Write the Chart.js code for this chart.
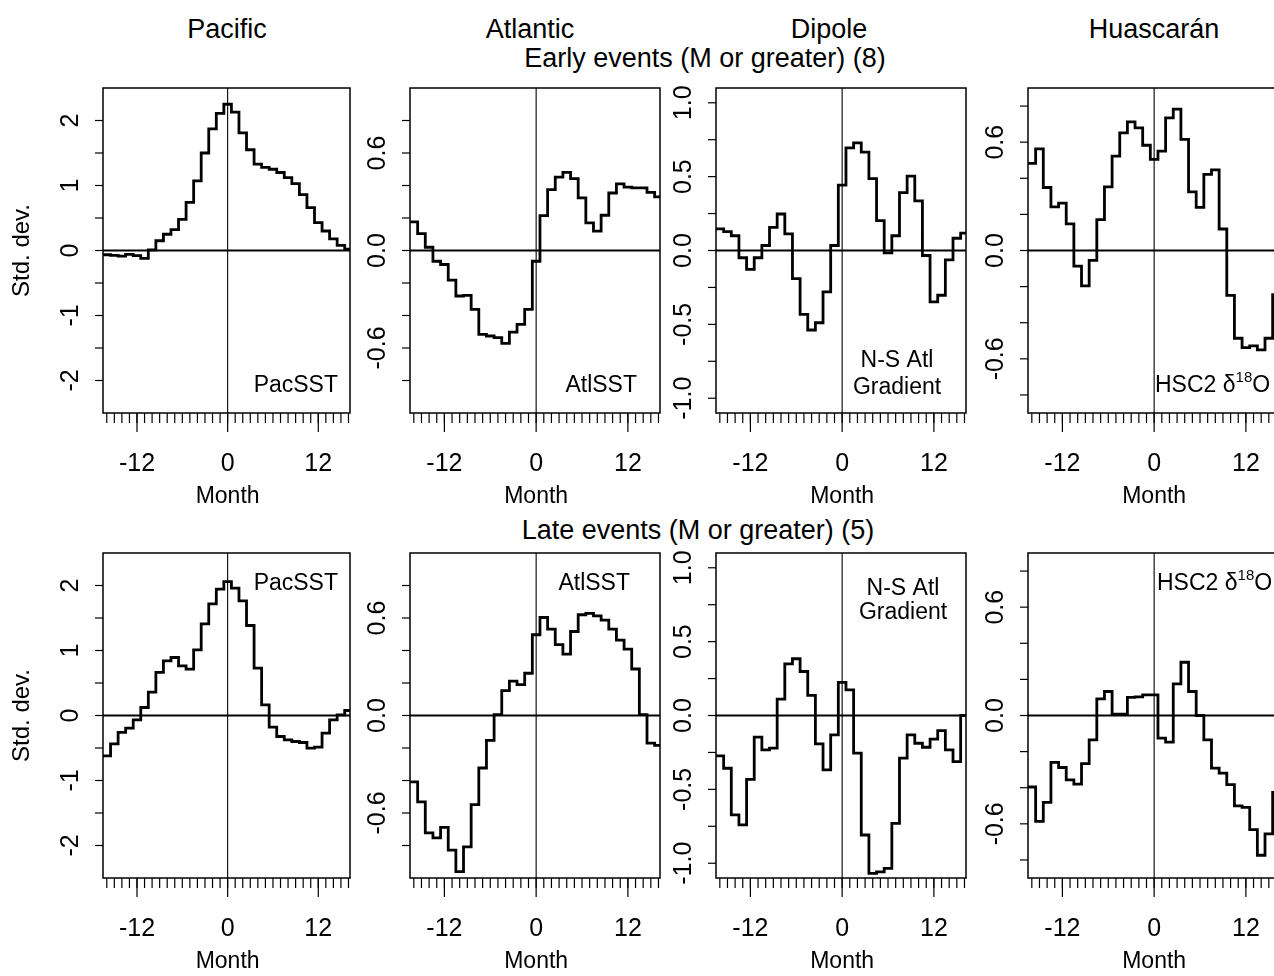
<!DOCTYPE html>
<html lang="en">
<head>
<meta charset="utf-8">
<title>Early and late events</title>
<script src="https://cdn.jsdelivr.net/npm/chart.js"></script>
<style>
  html, body { margin: 0; padding: 0; background: #fff; overflow: hidden; }
  body { width: 1274px; height: 976px; position: relative; font-family: 'Liberation Sans', Arial, sans-serif; color: #000; }
  .head { position: absolute; font-size: 27px; line-height: 27px; white-space: nowrap; transform: translateX(-50%); }
  canvas { position: absolute; }
</style>
</head>
<body>
<div class="head" style="left:227px;top:16px">Pacific</div>
<div class="head" style="left:530px;top:16px">Atlantic</div>
<div class="head" style="left:829px;top:16px">Dipole</div>
<div class="head" style="left:1154px;top:16px">Huascarán</div>
<div class="head" style="left:705px;top:45px">Early events (M or greater) (8)</div>
<div class="head" style="left:698px;top:517px">Late events (M or greater) (5)</div>

<script>
    // months relative to the event, -16 .. 16
    const months = [-16, -15, -14, -13, -12, -11, -10, -9, -8, -7, -6, -5, -4, -3, -2, -1, 0,
                    1, 2, 3, 4, 5, 6, 7, 8, 9, 10, 11, 12, 13, 14, 15, 16];
    const xTickLabels = [-12, 0, 12];

    // early events (M or greater) (8)
    const pacificEarly = [-0.065, -0.075, -0.085, -0.06, -0.08, -0.12, 0.01, 0.15, 0.25, 0.32, 0.48, 0.74, 1.07, 1.50, 1.87, 2.11,
                          2.25, 2.13, 1.81, 1.55, 1.33, 1.28, 1.25, 1.20, 1.12, 1.03, 0.86, 0.66, 0.43, 0.30, 0.18, 0.08, 0.02];
    const atlanticEarly = [0.176, 0.104, 0.02, -0.066, -0.086, -0.182, -0.28, -0.276, -0.362, -0.516, -0.526, -0.536, -0.571, -0.502, -0.455, -0.362,
                           -0.066, 0.215, 0.375, 0.452, 0.481, 0.442, 0.324, 0.17, 0.119, 0.217, 0.354, 0.41, 0.39, 0.385, 0.385, 0.358, 0.33];
    const dipoleEarly = [0.146, 0.128, 0.10, -0.049, -0.128, -0.049, 0.034, 0.157, 0.247, 0.112, -0.19, -0.433, -0.538, -0.489, -0.28, 0.034,
                         0.442, 0.695, 0.729, 0.666, 0.487, 0.202, -0.016, 0.10, 0.392, 0.504, 0.336, -0.034, -0.348, -0.303, -0.063, 0.083, 0.117];
    const huascaranEarly = [0.483, 0.563, 0.349, 0.242, 0.262, 0.147, -0.086, -0.196, -0.055, 0.171, 0.352, 0.523, 0.651, 0.712, 0.679, 0.583,
                            0.505, 0.55, 0.734, 0.783, 0.615, 0.325, 0.239, 0.422, 0.446, 0.119, -0.248, -0.486, -0.538, -0.528, -0.55, -0.486, -0.244];

    // late events (M or greater) (5)
    const pacificLate = [-0.62, -0.436, -0.26, -0.195, -0.067, 0.123, 0.359, 0.662, 0.841, 0.892, 0.764, 0.713, 1.01, 1.41, 1.718, 1.944,
                         2.06, 1.96, 1.764, 1.385, 0.728, 0.164, -0.18, -0.323, -0.374, -0.4, -0.415, -0.503, -0.487, -0.272, -0.067, 0.01, 0.077];
    const atlanticLate = [-0.409, -0.532, -0.722, -0.753, -0.689, -0.828, -0.961, -0.808, -0.548, -0.323, -0.153, 0.006, 0.153, 0.211, 0.19, 0.26,
                          0.497, 0.603, 0.532, 0.436, 0.378, 0.517, 0.62, 0.628, 0.613, 0.587, 0.532, 0.464, 0.409, 0.286, 0.006, -0.17, -0.184];
    const dipoleLate = [-0.273, -0.357, -0.673, -0.741, -0.432, -0.147, -0.233, -0.221, 0.111, 0.35, 0.384, 0.298, 0.136, -0.192, -0.368, -0.131,
                        0.224, 0.174, -0.255, -0.809, -1.069, -1.058, -1.035, -0.73, -0.289, -0.131, -0.188, -0.215, -0.16, -0.102, -0.233, -0.312, 0.0];
    const huascaranLate = [-0.396, -0.586, -0.481, -0.26, -0.288, -0.356, -0.38, -0.267, -0.135, 0.092, 0.133, 0.007, 0.007, 0.1, 0.103, 0.114,
                           0.114, -0.125, -0.147, 0.175, 0.295, 0.133, 0.0, -0.135, -0.291, -0.319, -0.383, -0.5, -0.509, -0.632, -0.774, -0.656, -0.426];

    // y axis ticks and labels per column
    const pacificYTicks = [-2, -1.5, -1, -0.5, 0, 0.5, 1, 1.5, 2];
    const pacificYLabels = [-2, -1, 0, 1, 2];
    const atlanticYTicks = [-0.8, -0.6, -0.4, -0.2, 0, 0.2, 0.4, 0.6, 0.8];
    const atlanticYLabels = [-0.6, 0, 0.6];
    const dipoleYTicks = [-1, -0.75, -0.5, -0.25, 0, 0.25, 0.5, 0.75, 1];
    const dipoleYLabels = [-1, -0.5, 0, 0.5, 1];
    const huascaranYTicks = [-0.8, -0.6, -0.4, -0.2, 0, 0.2, 0.4, 0.6, 0.8];
    const huascaranYLabels = [-0.6, 0, 0.6];

    const FONT = "'Liberation Sans', Arial, sans-serif";

    // plot boxes on the page
    const cols = [
        { left: 103, width: 247 },
        { left: 410, width: 250 },
        { left: 716, width: 250 },
        { left: 1028, width: 250 }
    ];
    const rows = [{ top: 88, height: 325 }, { top: 553, height: 325 }];
    const PAD = { left: 100, top: 12, right: 12, bottom: 100 };

    const columns = [
        { yMax: 2.5, ticks: pacificYTicks, labels: pacificYLabels, dec: 0 },
        { yMax: 1.0, ticks: atlanticYTicks, labels: atlanticYLabels, dec: 1 },
        { yMax: 1.1, ticks: dipoleYTicks, labels: dipoleYLabels, dec: 1 },
        { yMax: 0.9, ticks: huascaranYTicks, labels: huascaranYLabels, dec: 1 }
    ];

    const panels = [
        { row: 0, col: 0, values: pacificEarly, note: { lines: ['PacSST'], x: 338, y: [386], align: 'right' } },
        { row: 0, col: 1, values: atlanticEarly, note: { lines: ['AtlSST'], x: 637, y: [386], align: 'right' } },
        { row: 0, col: 2, values: dipoleEarly, note: { lines: ['N-S Atl', 'Gradient'], x: 897, y: [361, 388], align: 'center' } },
        { row: 0, col: 3, values: huascaranEarly, note: { iso: true, x: 1155, y: [386], align: 'left' } },
        { row: 1, col: 0, values: pacificLate, note: { lines: ['PacSST'], x: 338, y: [584], align: 'right' } },
        { row: 1, col: 1, values: atlanticLate, note: { lines: ['AtlSST'], x: 630, y: [584], align: 'right' } },
        { row: 1, col: 2, values: dipoleLate, note: { lines: ['N-S Atl', 'Gradient'], x: 903, y: [589, 613], align: 'center' } },
        { row: 1, col: 3, values: huascaranLate, note: { iso: true, x: 1157, y: [584], align: 'left' } }
    ];

    function seg(ctx, x1, y1, x2, y2) {
        ctx.beginPath();
        ctx.moveTo(x1, y1);
        ctx.lineTo(x2, y2);
        ctx.stroke();
    }

    // box, zero lines, ticks and texts of one panel
    const panelPlugin = {
        id: 'panel',
        beforeDatasetsDraw(chart, args, o) {
            const { ctx, chartArea: a, scales: { x, y } } = chart;
            ctx.save();
            ctx.strokeStyle = '#000';
            ctx.lineWidth = 1.1;
            const x0 = x.getPixelForValue(0);
            seg(ctx, x0, a.top, x0, a.bottom);
            ctx.lineWidth = 1.8;
            const y0 = y.getPixelForValue(0);
            seg(ctx, a.left, y0, a.right, y0);
            ctx.restore();
        },
        afterDatasetsDraw(chart, args, o) {
            const { ctx, chartArea: a, scales: { x, y } } = chart;
            ctx.save();
            ctx.strokeStyle = '#000';
            ctx.fillStyle = '#000';
            ctx.lineWidth = 1.5;
            ctx.strokeRect(a.left, a.top, a.right - a.left, a.bottom - a.top);

            // x ticks: every month short, labelled months long
            ctx.lineWidth = 1.2;
            months.forEach(m => {
                const px = x.getPixelForValue(m);
                seg(ctx, px, a.bottom, px, a.bottom + 10);
            });
            ctx.font = '25px ' + FONT;
            ctx.textAlign = 'center';
            ctx.textBaseline = 'middle';
            xTickLabels.forEach(m => {
                const px = x.getPixelForValue(m);
                seg(ctx, px, a.bottom, px, a.bottom + 19);
                ctx.fillText(String(m), px, a.bottom + 51);
            });
            ctx.font = '23px ' + FONT;
            ctx.fillText('Month', x.getPixelForValue(0), a.bottom + 84);

            // y ticks and rotated labels
            o.ticks.forEach(v => {
                const py = y.getPixelForValue(v);
                seg(ctx, a.left, py, a.left - 8, py);
            });
            ctx.font = '25px ' + FONT;
            o.labels.forEach(v => {
                const py = y.getPixelForValue(v);
                ctx.save();
                ctx.translate(a.left - 32, py);
                ctx.rotate(-Math.PI / 2);
                ctx.fillText(v.toFixed(o.dec), 0, 0);
                ctx.restore();
            });
            if (o.yTitle) {
                ctx.save();
                ctx.font = '24px ' + FONT;
                ctx.translate(a.left - 81, (a.top + a.bottom) / 2);
                ctx.rotate(-Math.PI / 2);
                ctx.fillText('Std. dev.', 0, 0);
                ctx.restore();
            }

            // series note
            const n = o.note;
            ctx.font = '23px ' + FONT;
            ctx.textAlign = n.align;
            const nx = n.x - o.offX;
            if (n.iso) {
                const ny = n.y[0] - o.offY;
                ctx.textAlign = 'left';
                const part1 = 'HSC2 \u03b4';
                ctx.fillText(part1, nx, ny);
                let cx = nx + ctx.measureText(part1).width;
                ctx.font = '15px ' + FONT;
                ctx.fillText('18', cx, ny - 8);
                cx += ctx.measureText('18').width;
                ctx.font = '23px ' + FONT;
                ctx.fillText('O', cx, ny);
            } else {
                n.lines.forEach((t, i) => ctx.fillText(t, nx, n.y[i] - o.offY));
            }
            ctx.restore();
        }
    };

    panels.forEach(p => {
        const c = cols[p.col];
        const r = rows[p.row];
        const col = columns[p.col];
        const cv = document.createElement('canvas');
        const left = c.left - PAD.left;
        const top = r.top - PAD.top;
        cv.width = c.width + PAD.left + PAD.right;
        cv.height = r.height + PAD.top + PAD.bottom;
        cv.style.left = left + 'px';
        cv.style.top = top + 'px';
        document.body.appendChild(cv);

        // each month's value is held from half a month before to half a month after it
        const points = months.map((m, i) => ({ x: m - 0.5, y: p.values[i] }));
        points.push({ x: months[months.length - 1] + 0.5, y: p.values[p.values.length - 1] });

        new Chart(cv, {
            type: 'line',
            data: {
                datasets: [{
                    data: points,
                    stepped: true,
                    borderColor: '#000',
                    borderWidth: 2.8,
                    borderJoinStyle: 'miter',
                    pointRadius: 0,
                    fill: false,
                    clip: 0
                }]
            },
            options: {
                responsive: false,
                animation: false,
                devicePixelRatio: 1,
                layout: { padding: PAD },
                scales: {
                    x: { type: 'linear', min: -16.5, max: 16.2, display: false },
                    y: { type: 'linear', min: -col.yMax, max: col.yMax, display: false }
                },
                plugins: {
                    legend: { display: false },
                    tooltip: { enabled: false },
                    panel: {
                        ticks: col.ticks,
                        labels: col.labels,
                        dec: col.dec,
                        yTitle: p.col === 0,
                        note: p.note,
                        offX: left,
                        offY: top
                    }
                }
            },
            plugins: [panelPlugin]
        });
    });
</script>
</body>
</html>
